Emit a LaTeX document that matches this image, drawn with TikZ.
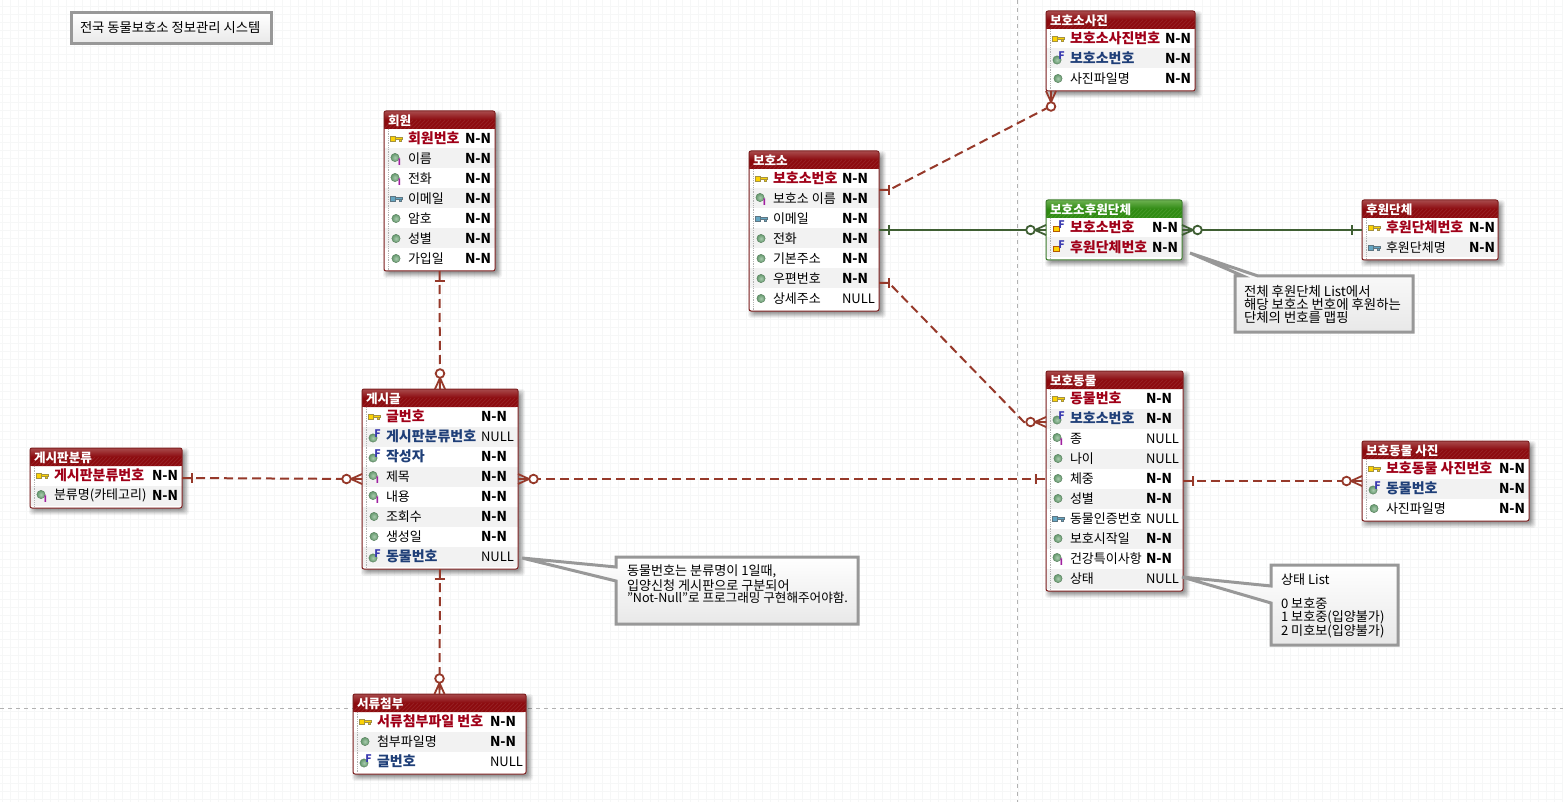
\documentclass[tikz,border=0pt]{standalone}
\usepackage{fontspec}
\setmainfont{Noto Sans CJK KR}
\usetikzlibrary{calc}
\definecolor{pkred}{HTML}{A00018}
\definecolor{fkblue}{HTML}{1F3F78}
\definecolor{relred}{HTML}{96392A}
\definecolor{relgreen}{HTML}{3F5F33}
\definecolor{redA}{HTML}{8C0A0E}
\definecolor{redB}{HTML}{A84A4C}
\definecolor{greenA}{HTML}{2F8A12}
\definecolor{greenB}{HTML}{6CB050}
\definecolor{redE}{HTML}{7E2020}
\definecolor{greenE}{HTML}{3F7F2F}
\definecolor{notegray}{HTML}{989898}
\definecolor{gridc}{HTML}{F6F7F7}
\definecolor{ballc}{HTML}{6FA878}
\definecolor{iconF}{HTML}{3A3AB0}
\definecolor{iconI}{HTML}{A020A0}
\tikzset{
  every node/.style={inner sep=0pt,outer sep=0pt},
  txt/.style={font=\fontsize{13}{12}\selectfont,anchor=west,text=black},
  txtb/.style={font=\fontsize{14}{12}\bfseries\selectfont,anchor=west},
  nntext/.style={font=\fontsize{13.6}{12}\bfseries\selectfont,anchor=west,text=black},
  nulltext/.style={font=\fontsize{13}{12}\selectfont,anchor=west,text=black},
  tabletitle/.style={font=\fontsize{12.6}{12}\bfseries\selectfont,anchor=west,text=white},
  notetext/.style={font=\fontsize{13.1}{11.8}\selectfont,anchor=north west,align=left,text=black},
  notebox/.style={draw=notegray,line width=3pt,line join=miter,top color=white,bottom color=black!9},
  relr/.style={draw=relred,line width=2pt,dash pattern=on 9pt off 5pt},
  relg/.style={draw=relgreen,line width=2pt},
  iconf/.style={font=\fontsize{10.5}{10}\bfseries\selectfont,text=iconF},
  iconi/.style={font=\fontsize{9}{9}\bfseries\selectfont,text=iconI},
  mark one/.pic={\draw[line width=1.8pt,pic actions] (10,-5)--(10,5);},
  mark many/.pic={
    \draw[line width=1.8pt,pic actions] (0,-5)--(11,0)--(0,5) (0,0)--(11,0);
    \draw[line width=1.8pt,pic actions,fill=white] (15.5,0) circle (4.3);},
}
% icons
\newcommand{\icball}[1]{\shade[inner color=ballc!60,outer color=ballc!90!black,draw=ballc!70!black,line width=.3pt] (#1) circle (4.2);}
\newcommand{\ickey}[2]{\fill[#2,draw=#2!60!black,line width=.5pt] ($(#1)+(-6,-2.5)$) rectangle ($(#1)+(-1,2.5)$);
  \fill[#2,draw=#2!60!black,line width=.4pt] ($(#1)+(-1,-1.2)$) rectangle ($(#1)+(6,1)$) ($(#1)+(3,1)$) rectangle ($(#1)+(5,2.5)$);}
\newcommand{\drawicon}[2]{%
  \edef\tmp{#2}\def\tpk{pk}\def\tfk{fk}\def\tpf{pf}\def\tix{ix}\def\tpl{pl}\def\tak{ak}%
  \ifx\tmp\tpk \ickey{#1}{yellow!70!orange}\fi
  \ifx\tmp\tak \ickey{#1}{cyan!50!gray}\fi
  \ifx\tmp\tpl \icball{#1}\fi
  \ifx\tmp\tix \icball{$(#1)+(-1,-1)$}\node[iconi] at ($(#1)+(3.5,3.5)$) {I};\fi
  \ifx\tmp\tfk \icball{$(#1)+(-1,1.5)$}\node[iconf] at ($(#1)+(3.5,-3)$) {F};\fi
  \ifx\tmp\tpf \fill[yellow!70!orange,draw=orange!70!black,line width=.5pt] ($(#1)+(-5,-1)$) rectangle ($(#1)+(1,4)$);\node[iconf] at ($(#1)+(3.5,-3)$) {F};\fi
}
% #1 id, #2 x0, #3 x1, #4 ytop, #5 nrows, #6 title, #7 red/green, #8 nn offset, #9 rows
\newcommand{\ertable}[9]{%
  \pgfmathsetmacro{\ybot}{#4+20*#5+20}
  \pgfmathsetmacro{\xw}{#3-#2}
  \pgfmathsetmacro{\yh}{\ybot-#4}
  \foreach \s/\o in {7/.05,6/.06,5/.07,4/.08,3/.09,2/.10}{
    \fill[black,opacity=\o,rounded corners=3pt] (#2+6-\s,#4+7-\s) rectangle (#3+\s,\ybot+\s);}
  \fill[white,rounded corners=2pt] (#2,#4) rectangle (#3,\ybot);
  \foreach \ic/\nm/\nn [count=\i] in {#9}{
    \pgfmathsetmacro{\yc}{#4+7.5+20*\i}
    \pgfmathtruncatemacro{\ev}{mod(\i,2)}
    \ifnum\ev=0 \fill[black!5] (#2,\yc-10) rectangle (#3,\yc+10);\fi
    \drawicon{#2+12,\yc}{\ic}
    \edef\tmpb{\ic}\def\tpk{pk}\def\tfk{fk}\def\tpf{pf}
    \ifx\tmpb\tpk \node[txtb,text=pkred] at (#2+24,\yc) {\nm};
    \else\ifx\tmpb\tpf \node[txtb,text=pkred] at (#2+24,\yc) {\nm};
    \else\ifx\tmpb\tfk \node[txtb,text=fkblue] at (#2+24,\yc) {\nm};
    \else \node[txt] at (#2+24,\yc) {\nm};\fi\fi\fi
    \ifnum\nn=1 \node[nntext] at (#3-#8,\yc) {N-N};
    \else \node[nulltext] at (#3-#8,\yc) {NULL};\fi
  }
  \draw[black!30,densely dotted,line width=.8pt] (#2+4,#4+18) -- (#2+4,\ybot-1);
  \shade[top color=#7B,bottom color=#7A,middle color=#7A,rounded corners=2pt] (#2,#4) rectangle (#3,#4+18);
  \fill[#7A] (#2,#4+9) rectangle (#3,#4+18);
  \begin{scope}
    \clip (#2,#4+9) rectangle (#3,#4+18);
    \pgfmathsetmacro{\xs}{#2}
    \foreach \k in {0,4,...,220}{\draw[#7B,opacity=.35,line width=.8pt] (\xs+\k,#4+18) -- (\xs+\k+9,#4+9);}
  \end{scope}
  \node[tabletitle] (#1t) at (#2+4,#4+9.5) {#6};
  \node[draw=#7E,line width=1pt,rounded corners=2pt,minimum width=\xw,minimum height=\yh] (#1) at ({(#2+#3)/2},{(#4+\ybot)/2}) {};
}
\begin{document}
\begin{tikzpicture}[x=1pt,y=-1pt]
\useasboundingbox (0,0) rectangle (1563,802);
\fill[white] (0,0) rectangle (1563,802);
\foreach \x in {2,10,...,1562}{\draw[gridc,line width=1pt] (\x,0)--(\x,802);}
\foreach \y in {7,15,...,800}{\draw[gridc,line width=1pt] (0,\y)--(1563,\y);}
\draw[black!30,line width=1pt,dash pattern=on 4pt off 4pt] (1017,0)--(1017,802);
\draw[black!30,line width=1pt,dash pattern=on 4pt off 4pt] (0,708)--(1563,708);

\ertable{member}{384}{495}{111}{7}{회원}{red}{30}{pk/회원번호/1,ix/이름/1,ix/전화/1,ak/이메일/1,pl/암호/1,pl/성별/1,pl/가입일/1}
\ertable{board}{362}{518}{389}{8}{게시글}{red}{37}{pk/글번호/1,fk/게시판분류번호/0,fk/작성자/1,ix/제목/1,ix/내용/1,pl/조회수/1,pl/생성일/1,fk/동물번호/0}
\ertable{cat}{30}{182}{448}{2}{게시판분류}{red}{30}{pk/게시판분류번호/1,ix/분류명(카테고리)/1}
\ertable{docs}{353}{526}{694}{3}{서류첨부}{red}{36}{pk/서류첨부파일 번호/1,pl/첨부파일명/1,fk/글번호/0}
\ertable{shel}{749}{879}{151}{7}{보호소}{red}{37}{pk/보호소번호/1,ix/보호소 이름/1,ak/이메일/1,pl/전화/1,pl/기본주소/1,pl/우편번호/1,pl/상세주소/0}
\ertable{shpic}{1046}{1195}{11}{3}{보호소사진}{red}{30}{pk/보호소사진번호/1,fk/보호소번호/1,pl/사진파일명/1}
\ertable{shsp}{1046}{1182}{200}{2}{보호소후원단체}{green}{30}{pf/보호소번호/1,pf/후원단체번호/1}
\ertable{spon}{1362}{1498}{200}{2}{후원단체}{red}{29}{pk/후원단체번호/1,ak/후원단체명/1}
\ertable{ani}{1046}{1183}{371}{10}{보호동물}{red}{37}{pk/동물번호/1,fk/보호소번호/1,ix/종/0,pl/나이/0,pl/체중/1,pl/성별/1,ak/동물인증번호/0,pl/보호시작일/1,ix/건강특이사항/1,pl/상태/0}
\ertable{anipic}{1362}{1529}{441}{3}{보호동물 사진}{red}{30}{pk/보호동물 사진번호/1,fk/동물번호/1,pl/사진파일명/1}

% connectors
\path[relr] (member.south) -- (board.north);
\path[relr] (board.south) -- (docs.north);
\path[relr] (cat.east) -- (board.west);
\path[relr] (board.east) -- (board.east -| ani.west);
\path[relr] (ani.east) -- (ani.east -| anipic.west);
\coordinate (s1) at (shel.east |- 0,190);
\coordinate (s3) at (shel.east |- 0,283);
\coordinate (sp) at ($(shpic.south)+(-69.5,0)$);
\coordinate (a3) at (ani.west |- 0,422);
\coordinate (s4) at (shsp.west |- 0,230);
\coordinate (s5) at (shsp.east |- 0,230);
\coordinate (s6) at (spon.west |- 0,230);
\path[relr] (s1) -- ++(10,0) -- ($(sp)+(0,15)$) -- (sp);
\path[relr] (s3) -- ++(10,0) -- ($(a3)+(-22,0)$) -- (a3);
\path[relg] (s1 |- s4) -- (s4);
\path[relg] (s5) -- (s6);
\tikzset{mr/.style={draw=relred},mg/.style={draw=relgreen}}
\path (member.south) pic[rotate=-90,mr]{mark one};
\path (board.north) pic[rotate=90,mr]{mark many};
\path (board.south) pic[rotate=-90,mr]{mark one};
\path (docs.north) pic[rotate=90,mr]{mark many};
\path (cat.east) pic[mr]{mark one};
\path (board.west) pic[rotate=180,mr]{mark many};
\path (board.east) pic[mr]{mark many};
\path (board.east -| ani.west) pic[rotate=180,mr]{mark one};
\path (ani.east) pic[mr]{mark one};
\path (ani.east -| anipic.west) pic[rotate=180,mr]{mark many};
\path (s1) pic[mr]{mark one};
\path (sp) pic[rotate=-90,mr]{mark many};
\path (s3) pic[mr]{mark one};
\path (a3) pic[rotate=180,mr]{mark many};
\path (s1 |- s4) pic[mg]{mark one};
\path (s4) pic[rotate=180,mg]{mark many};
\path (s5) pic[mg]{mark many};
\path (s6) pic[rotate=180,mg]{mark one};

% notes
\draw[notebox] (71,13) rectangle (271,44);
\node[notetext,anchor=west,font=\fontsize{13.3}{12}\selectfont] (ttl) at (80,28) {전국 동물보호소 정보관리 시스템};

\draw[notebox] (522,558) -- (616,567) -- (616,557) -- (858,557) -- (858,624) -- (616,624) -- (616,581) -- cycle;
\node[notetext] (n1) at (627,565) {동물번호는 분류명이 1일때,\\입양신청 게시판으로 구분되어\\{\fontsize{12.6}{11.8}\selectfont "Not-Null"로 프로그래밍 구현해주어야함.}};

\draw[notebox] (1182,577) -- (1271,586) -- (1271,565) -- (1398,565) -- (1398,645) -- (1271,645) -- (1271,603) -- cycle;
\node[notetext] (n2) at (1281,574) {상태 List\\[11.8pt]0 보호중\\1 보호중(입양불가)\\2 미호보(입양불가)};

\draw[notebox] (1190,253) -- (1258,276) -- (1413,276) -- (1413,332) -- (1235,332) -- (1235,276) -- (1243,276) -- cycle;
\node[notetext,font=\fontsize{13.4}{11.8}\selectfont] (n3) at (1244,285) {전체 후원단체 List에서\\해당 보호소 번호에 후원하는\\단체의 번호를 맵핑};
\end{tikzpicture}
\end{document}
